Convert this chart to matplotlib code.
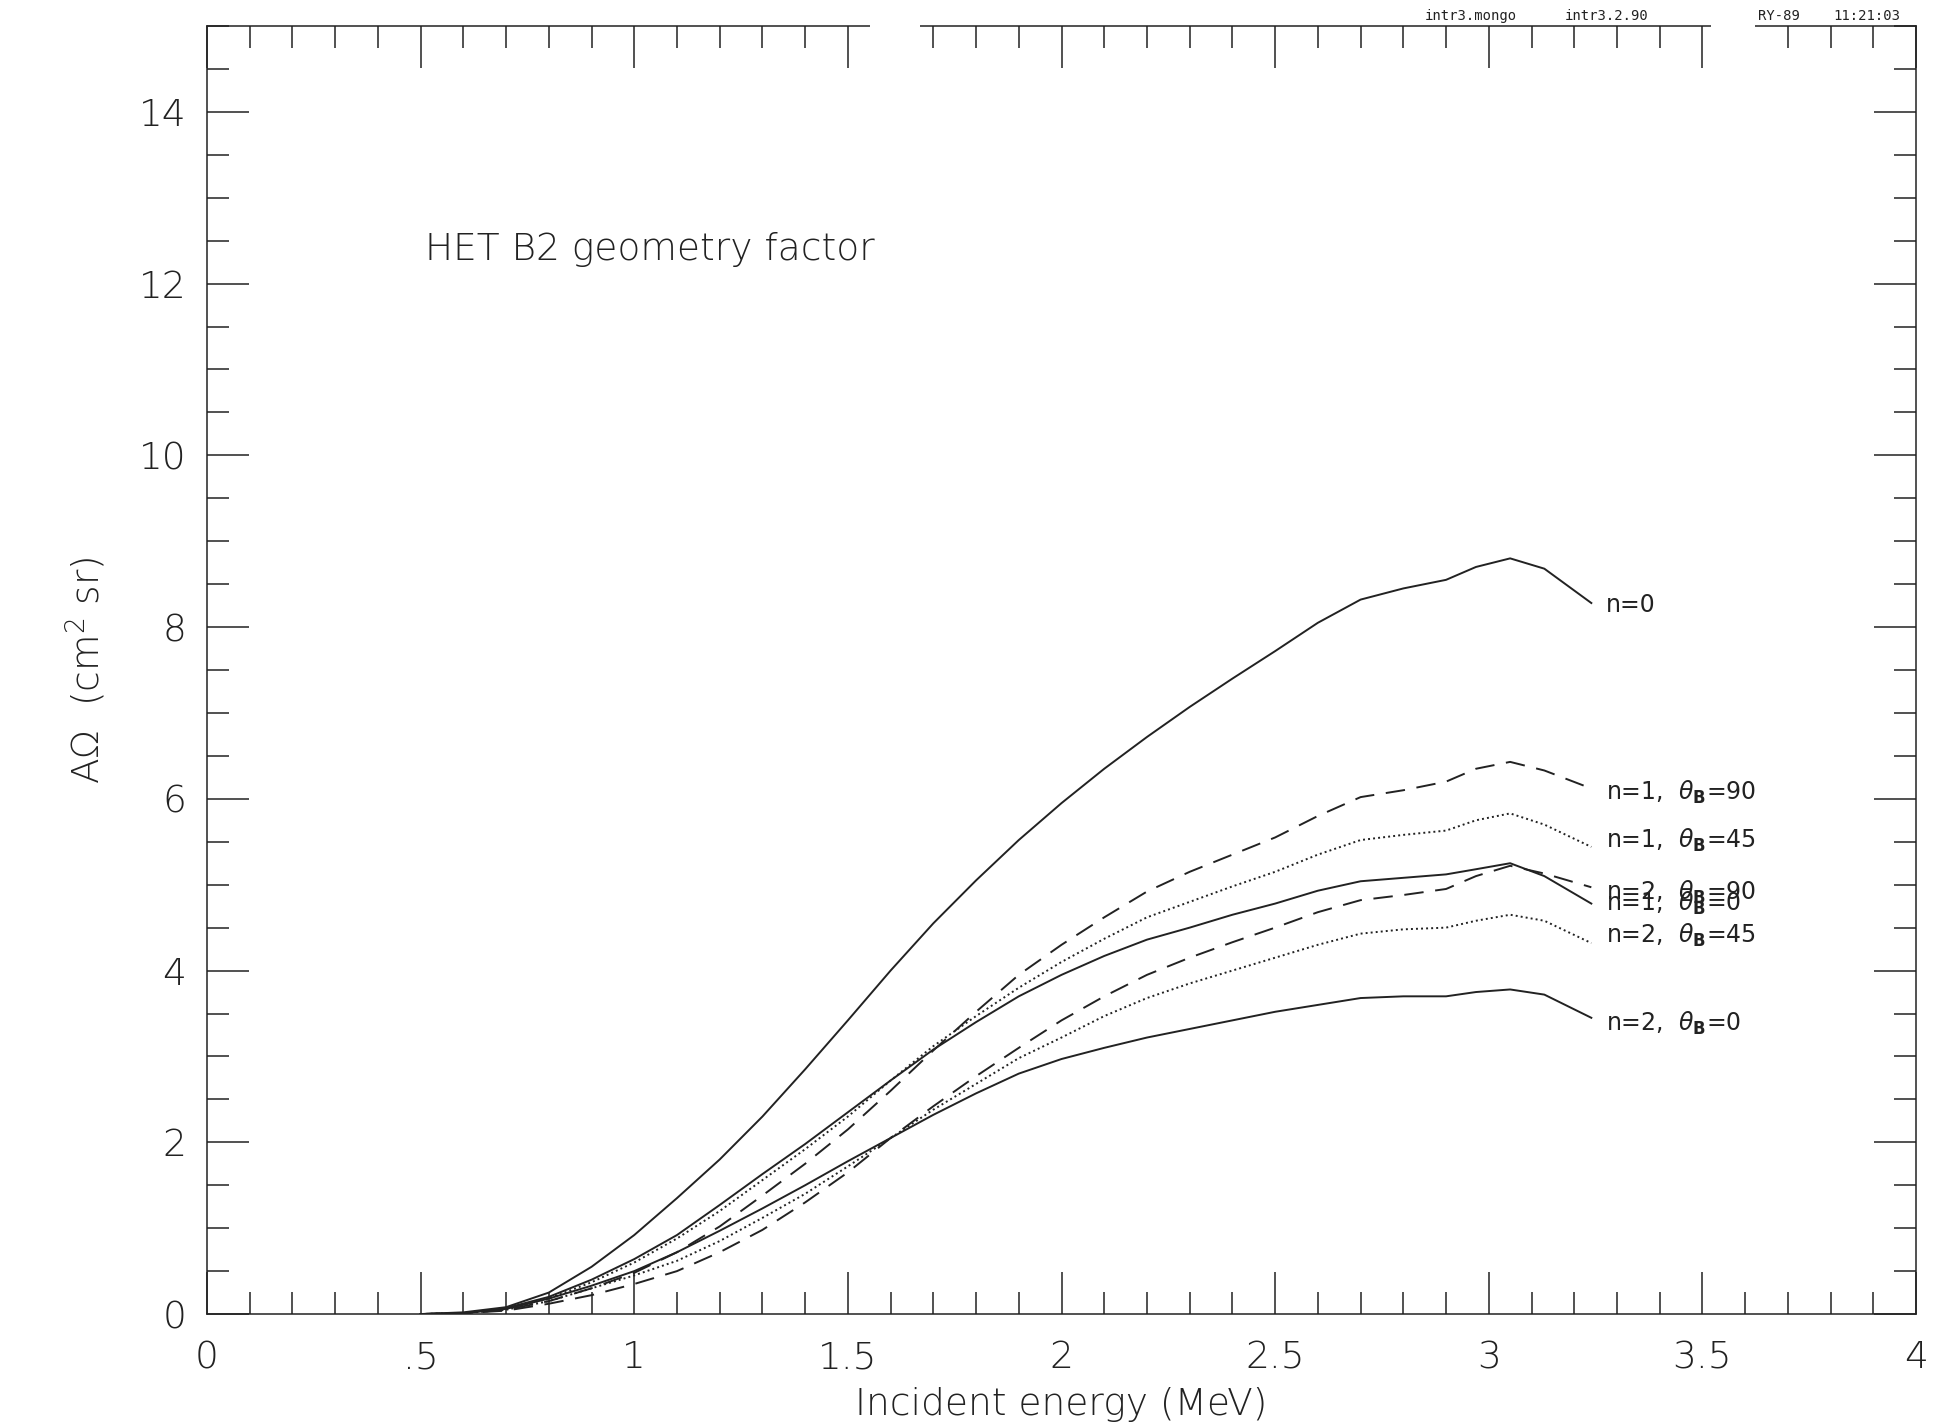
import numpy as np
import matplotlib
matplotlib.use("Agg")
import matplotlib.pyplot as plt
from matplotlib.ticker import MultipleLocator, FuncFormatter
from matplotlib.patches import Rectangle

# energy grid (MeV)
energy = [0.5, 0.6, 0.7, 0.8, 0.9, 1.0, 1.1, 1.2, 1.3, 1.4, 1.5, 1.6, 1.7, 1.8, 1.9,
          2.0, 2.1, 2.2, 2.3, 2.4, 2.5, 2.6, 2.7, 2.8, 2.9, 2.97, 3.05, 3.13, 3.24]

# geometry factor A*Omega (cm^2 sr)
g_n0 = [0, 0.02, 0.08, 0.25, 0.55, 0.92, 1.35, 1.8, 2.3, 2.85, 3.42, 4.0, 4.55, 5.05, 5.52,
        5.95, 6.35, 6.72, 7.07, 7.4, 7.72, 8.05, 8.32, 8.45, 8.55, 8.7, 8.8, 8.68, 8.28]
g_n1_90 = [0, 0.01, 0.05, 0.15, 0.3, 0.48, 0.72, 1.02, 1.38, 1.75, 2.15, 2.6, 3.07, 3.52, 3.95,
           4.3, 4.62, 4.92, 5.15, 5.35, 5.55, 5.8, 6.02, 6.1, 6.2, 6.35, 6.43, 6.33, 6.12]
g_n1_45 = [0, 0.01, 0.06, 0.18, 0.37, 0.6, 0.88, 1.2, 1.56, 1.92, 2.3, 2.72, 3.12, 3.47, 3.8,
           4.1, 4.37, 4.62, 4.8, 4.98, 5.15, 5.35, 5.52, 5.58, 5.63, 5.75, 5.83, 5.7, 5.44]
g_n1_0 = [0, 0.01, 0.07, 0.2, 0.4, 0.64, 0.92, 1.27, 1.63, 1.98, 2.35, 2.72, 3.08, 3.4, 3.7,
          3.95, 4.17, 4.36, 4.5, 4.65, 4.78, 4.93, 5.04, 5.08, 5.12, 5.18, 5.25, 5.1, 4.78]
g_n2_90 = [0, 0.01, 0.04, 0.12, 0.22, 0.35, 0.5, 0.72, 0.98, 1.3, 1.65, 2.05, 2.42, 2.77, 3.1,
           3.42, 3.7, 3.95, 4.15, 4.33, 4.5, 4.68, 4.82, 4.88, 4.95, 5.1, 5.22, 5.13, 4.97]
g_n2_45 = [0, 0.01, 0.05, 0.15, 0.3, 0.45, 0.62, 0.85, 1.12, 1.4, 1.72, 2.05, 2.38, 2.68, 2.98,
           3.22, 3.47, 3.68, 3.85, 4.0, 4.15, 4.3, 4.43, 4.48, 4.5, 4.58, 4.65, 4.58, 4.32]
g_n2_0 = [0, 0.01, 0.06, 0.18, 0.33, 0.5, 0.72, 0.97, 1.23, 1.5, 1.78, 2.05, 2.32, 2.57, 2.8,
          2.97, 3.1, 3.22, 3.32, 3.42, 3.52, 3.6, 3.68, 3.7, 3.7, 3.75, 3.78, 3.72, 3.45]

curve_labels = ["n=0",
                r"n=1,  $\theta_{\mathbf{B}}$=90",
                r"n=1,  $\theta_{\mathbf{B}}$=45",
                r"n=1,  $\theta_{\mathbf{B}}$=0",
                r"n=2,  $\theta_{\mathbf{B}}$=90",
                r"n=2,  $\theta_{\mathbf{B}}$=45",
                r"n=2,  $\theta_{\mathbf{B}}$=0"]
label_y = [8.26, 6.07, 5.52, 4.78, 4.91, 4.41, 3.39]

plt.rcParams["font.weight"] = "light"
plt.rcParams["axes.labelweight"] = "light"
BLK = "#222222"
fig = plt.figure(figsize=(19.36, 14.26), dpi=100)
ax = fig.add_axes([0.1069, 0.0785, 0.8828, 0.9033])

series = [g_n0, g_n1_90, g_n1_45, g_n1_0, g_n2_90, g_n2_45, g_n2_0]
styles = ["solid", "dashed", "dotted", "solid", "dashed", "dotted", "solid"]
for s, ls in zip(series, styles):
    ln, = ax.plot(energy, s, color=BLK, lw=1.4)
    if ls == "dashed":
        ln.set_dashes((10, 6))
    elif ls == "dotted":
        ln.set_dashes((1, 1.6))

lab_x = energy[-1] + 0.035
for txt, yy in zip(curve_labels, label_y):
    ax.text(lab_x, yy, txt, fontsize=17, color=BLK, va="center", ha="left",
            fontweight="normal")

ax.text(0.51, 12.27, "HET B2 geometry factor", fontsize=27, color=BLK,
        va="baseline", ha="left")

ax.set_xlim(0, 4)
ax.set_ylim(0, 15)
ax.xaxis.set_major_locator(MultipleLocator(0.5))
ax.xaxis.set_minor_locator(MultipleLocator(0.1))
ax.yaxis.set_major_locator(MultipleLocator(2))
ax.yaxis.set_minor_locator(MultipleLocator(0.5))

def xfmt(v, pos):
    s = "%g" % v
    if s.startswith("0."):
        s = s[1:]
    return s

ax.xaxis.set_major_formatter(FuncFormatter(xfmt))
ax.tick_params(which="both", direction="in", top=True, right=True, colors=BLK)
ax.tick_params(which="major", length=30, width=1.1, labelsize=27)
ax.tick_params(which="minor", length=16, width=1.1)
ax.tick_params(axis="x", which="major", pad=19)
ax.tick_params(axis="y", which="major", pad=15)
for sp in ax.spines.values():
    sp.set_linewidth(1.1)
    sp.set_color(BLK)

ax.set_xlabel("Incident energy (MeV)", fontsize=27, color=BLK, labelpad=8,
              fontweight="light")
ax.set_ylabel(r"A$\Omega$  (cm$^{2}$ sr)", fontsize=27, color=BLK, labelpad=22,
              fontweight="light")

# gaps in the top frame line
for x0, w in [(0.388, 0.029), (0.880, 0.026)]:
    ax.add_patch(Rectangle((x0, 0.96), w, 0.06, transform=ax.transAxes,
                           facecolor="white", edgecolor="none", clip_on=False, zorder=5))

# plot-program stamp along the top edge
stamp = [("intr3.mongo", 0.736), ("intr3.2.90", 0.808), ("RY-89", 0.908), ("11:21:03", 0.947)]
for txt, fx in stamp:
    fig.text(fx, 0.9885, txt, fontsize=10, family="DejaVu Sans Mono", color=BLK,
             ha="left", va="center", fontweight="normal")

fig.savefig("out.png", dpi=100, facecolor="white")
